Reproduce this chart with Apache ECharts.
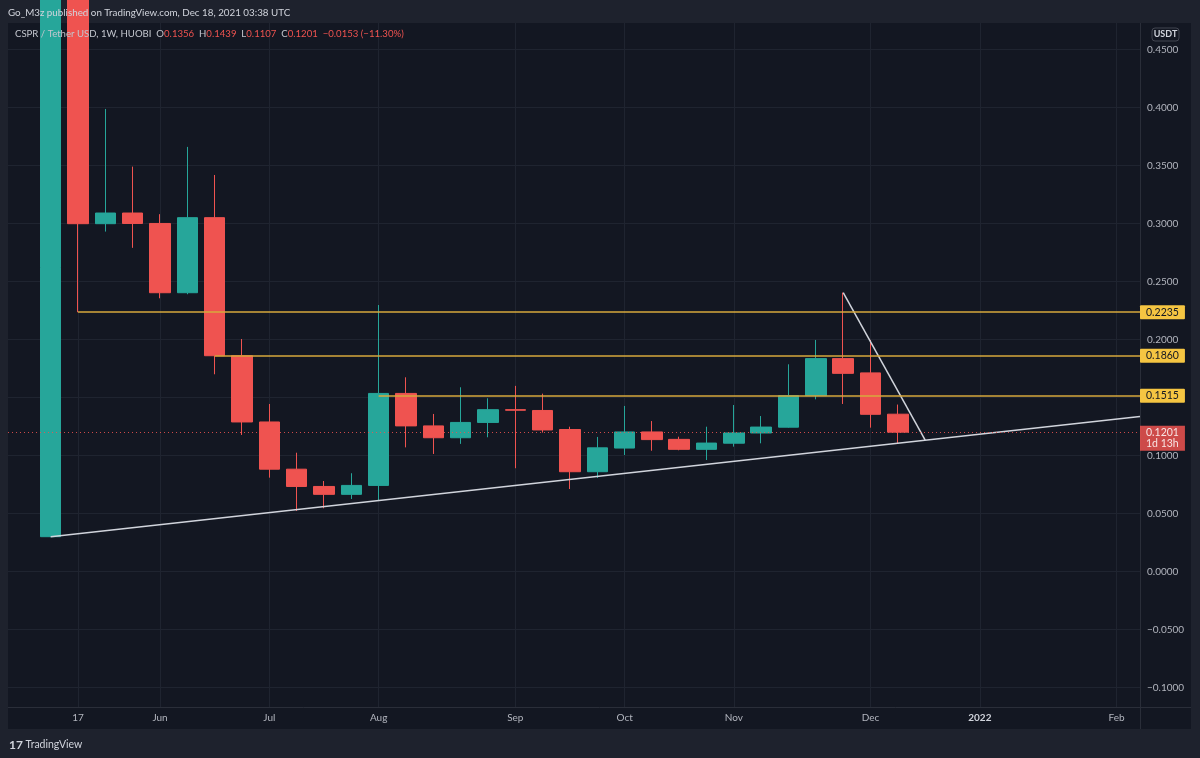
<!DOCTYPE html>
<html>
<head>
<meta charset="utf-8">
<script src="https://cdn.jsdelivr.net/npm/echarts@6/dist/echarts.min.js"></script>
<style>
html,body{margin:0;padding:0;background:#1e222d;}
#c{width:1200px;height:758px;}
</style>
</head>
<body>
<div id="c"></div>
<script>
// ---- data (weekly candles, index 0 = week of 2021-05-10) ----
const weekStart = ['2021-05-10','2021-05-17','2021-05-24','2021-05-31','2021-06-07','2021-06-14','2021-06-21','2021-06-28',
  '2021-07-05','2021-07-12','2021-07-19','2021-07-26','2021-08-02','2021-08-09','2021-08-16','2021-08-23','2021-08-30',
  '2021-09-06','2021-09-13','2021-09-20','2021-09-27','2021-10-04','2021-10-11','2021-10-18','2021-10-25','2021-11-01',
  '2021-11-08','2021-11-15','2021-11-22','2021-11-29','2021-12-06','2021-12-13'];
const opens  = [0.0300,0.6200,0.2998,0.3090,0.3000,0.2403,0.3050,0.1860,0.1289,0.0882,0.0733,0.0665,0.0742,0.1535,0.1255,0.1153,0.1285,
  0.1395,0.1388,0.1224,0.0860,0.1064,0.1203,0.1139,0.1053,0.1106,0.1194,0.1244,0.1516,0.1835,0.1712,0.1356];
const closes = [0.6200,0.2998,0.3090,0.3000,0.2403,0.3050,0.1860,0.1289,0.0882,0.0733,0.0665,0.0742,0.1535,0.1255,0.1153,0.1285,0.1395,
  0.1390,0.1220,0.0860,0.1066,0.1203,0.1137,0.1053,0.1107,0.1194,0.1245,0.1516,0.1835,0.1708,0.1355,0.1201];
const lows   = [0.0300,0.2235,0.2930,0.2790,0.2355,0.2390,0.1700,0.1177,0.0809,0.0522,0.0545,0.0625,0.0616,0.1070,0.1013,0.1100,0.1157,
  0.0890,0.1197,0.0711,0.0806,0.1004,0.1041,0.1045,0.0961,0.1076,0.1105,0.1240,0.1484,0.1444,0.1240,0.1107];
const highs  = [1.0000,0.7000,0.3987,0.3490,0.3080,0.3660,0.3418,0.2004,0.1444,0.1024,0.0780,0.0847,0.2297,0.1674,0.1358,0.1588,0.1493,
  0.1600,0.1533,0.1248,0.1160,0.1427,0.1297,0.1162,0.1248,0.1435,0.1340,0.1786,0.1996,0.2404,0.1996,0.1439];

// time-axis tick labels (week index -> label)
const monthTickIdx    = [1,4,8,12,17,21,25,30,34,39];
const monthTickLabels = ['17','Jun','Jul','Aug','Sep','Oct','Nov','Dec','2022','Feb'];
// price-axis ticks
const priceTicks = [-0.10,-0.05,0.00,0.05,0.10,0.15,0.20,0.25,0.30,0.35,0.40,0.45];

// drawings
const rayStartIdx = [1,6,12];
const rayValues   = [0.2235,0.1860,0.1515];
const trendUp     = [[0,0.0300],[39.86,0.1336]];
const trendDown   = [[29,0.2404],[32,0.1132]];
const lastClose   = 0.1201;
const countdown   = '1d 13h';

// view range
const xMin = -1.562, xMax = 39.86;
const yMin = -0.1168, yMax = 0.4728;

const FONT = 'Lato, "Noto Sans", sans-serif';
const UP = '#26a69a', DOWN = '#ef5350';

const candleData = opens.map((o,i)=>[i,o,closes[i],lows[i],highs[i]]);

const markData = rayValues.map((v,k)=>[
  {coord:[rayStartIdx[k], v], lineStyle:{color:'#d7a93c', width:1.5, type:'solid'},
   label:{show:true, position:'end', distance:0, formatter:v.toFixed(4), backgroundColor:'#f5c542', color:'#131722',
     padding:[2,6,1,6], fontSize:10.5, fontFamily:FONT, borderRadius:1}},
  {coord:[xMax, v]}
]);
markData.push([
  {coord:[xMin, lastClose], lineStyle:{color:'#ef5350', width:1, type:[1,3], opacity:0.85},
   label:{show:true, position:'end', distance:0, formatter:lastClose.toFixed(4)+'\n'+countdown, backgroundColor:'#ef5350', color:'#ffffff',
     padding:[2,6,1,6], lineHeight:11, fontSize:10.5, fontFamily:FONT, offset:[0,6]}},
  {coord:[xMax, lastClose]}
]);

const chart = echarts.init(document.getElementById('c'), null, {renderer:'canvas'});
chart.setOption({
  animation:false,
  backgroundColor:'#1e222d',
  graphic:[
    {type:'rect', z:-10, silent:true, shape:{x:8,y:23,width:1183,height:706}, style:{fill:'#131722'}},
    {type:'line', z:5, silent:true, shape:{x1:1140.5,y1:23,x2:1140.5,y2:729}, style:{stroke:'#2a2e39',lineWidth:1}},
    {type:'line', z:5, silent:true, shape:{x1:8,y1:707.5,x2:1191,y2:707.5}, style:{stroke:'#2a2e39',lineWidth:1}},
    {type:'text', z:10, silent:true, style:{x:8,y:13,text:'Go_M3z published on TradingView.com, Dec 18, 2021 03:38 UTC',
      fill:'#d1d4dc', fontSize:9.8, fontFamily:FONT, verticalAlign:'middle'}},
    {type:'text', z:10, silent:true, style:{x:15,y:34,
      text:'{t|CSPR / Tether USD, 1W, HUOBI}  {k|O}{v|0.1356}  {k|H}{v|0.1439}  {k|L}{v|0.1107}  {k|C}{v|0.1201}  {v|\u22120.0153 (\u221211.30%)}',
      fontSize:9.6, fontFamily:FONT, verticalAlign:'middle',
      rich:{t:{fill:'#c3c6ce',fontSize:9.6,fontFamily:FONT}, k:{fill:'#c3c6ce',fontSize:9.6,fontFamily:FONT}, v:{fill:'#ef5350',fontSize:9.6,fontFamily:FONT}}}},
    {type:'rect', z:10, silent:true, shape:{x:1152,y:28,width:27,height:13,r:3}, style:{fill:'#131722',stroke:'#434651',lineWidth:1}},
    {type:'text', z:11, silent:true, style:{x:1165.5,y:34.5,text:'USDT',fill:'#d1d4dc',fontSize:9,fontWeight:'bold',fontFamily:FONT,align:'center',verticalAlign:'middle'}},
    {type:'text', z:10, silent:true, style:{x:9,y:745,text:'{l|17} TradingView',fontFamily:FONT,verticalAlign:'middle',
      rich:{l:{fill:'#d1d4dc',fontSize:12,fontWeight:'bold',fontFamily:FONT}}, fill:'#d1d4dc', fontSize:10.5}}
  ],
  grid:{left:8, right:60, top:23, bottom:51, containLabel:false},
  xAxis:{
    type:'value', min:xMin, max:xMax,
    axisLine:{show:false},
    axisTick:{show:false, customValues:monthTickIdx},
    splitLine:{show:true, customValues:monthTickIdx, lineStyle:{color:'#1f2430', width:1}},
    axisLabel:{customValues:monthTickIdx, margin:6, color:'#b2b5be', fontSize:10, fontFamily:FONT,
      formatter:function(v){const k=monthTickIdx.indexOf(Math.round(v)); if(k<0)return ''; const s=monthTickLabels[k]; return s==='2022'?'{b|'+s+'}':s;},
      rich:{b:{color:'#d1d4dc', fontWeight:'bold', fontSize:10, fontFamily:FONT}}}
  },
  yAxis:{
    type:'value', position:'right', min:yMin, max:yMax, scale:true,
    axisLine:{show:false},
    axisTick:{show:false, customValues:priceTicks},
    splitLine:{show:true, customValues:priceTicks, lineStyle:{color:'#1f2430', width:1}},
    axisLabel:{customValues:priceTicks, margin:7, color:'#b2b5be', fontSize:10, fontFamily:FONT,
      formatter:function(v){return (v<0?'\u2212':'')+Math.abs(v).toFixed(4);}}
  },
  series:[
    {
      type:'candlestick', data:candleData, encode:{x:0, y:[1,2,3,4]},
      barWidth:21, clip:true,
      itemStyle:{color:UP, color0:DOWN, borderColor:UP, borderColor0:DOWN, borderWidth:1},
      markLine:{silent:true, symbol:['none','none'], animation:false, data:markData}
    },
    {type:'line', data:trendUp, showSymbol:false, symbol:'none', z:4, lineStyle:{color:'#d1d4dc', width:1.5}},
    {type:'line', data:trendDown, showSymbol:false, symbol:'none', z:4, lineStyle:{color:'#d1d4dc', width:1.5}}
  ]
});
</script>
</body>
</html>
